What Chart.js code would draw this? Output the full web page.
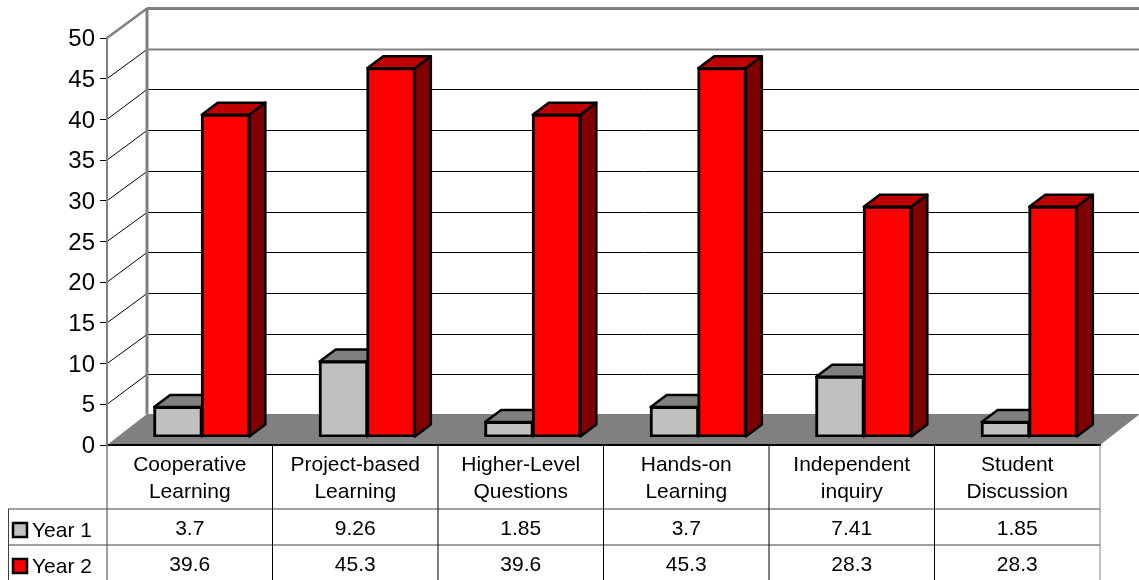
<!DOCTYPE html>
<html>
<head>
<meta charset="utf-8">
<title>Year 1 and Year 2</title>
<style>
html,body{margin:0;padding:0;background:#fff;overflow:hidden}
canvas{display:block}
</style>
<script src="https://cdn.jsdelivr.net/npm/chart.js@4/dist/chart.umd.min.js"></script>
</head>
<body>
<canvas id="chart" width="1139" height="580"></canvas>
<script>
// values
const categories = [
  ['Cooperative','Learning'],
  ['Project-based','Learning'],
  ['Higher-Level','Questions'],
  ['Hands-on','Learning'],
  ['Independent','inquiry'],
  ['Student','Discussion']
];
const year1 = [3.7, 9.26, 1.85, 3.7, 7.41, 1.85];
const year2 = [39.6, 45.3, 39.6, 45.3, 28.3, 28.3];
const seriesNames = ['Year 1', 'Year 2'];

const FONT = '"Liberation Sans", Arial, sans-serif';
const wallDx = 40, wallDy = 30, floorDy = 31;   // depth of the walls and floor
const barDx = 12, barDy = 8;      // bars stand a bit inside the floor
const sideDx = 16, sideDy = 12;   // depth of a bar
const topColors = ['#808080', '#c00000'];
const sideColors = ['#606060', '#800000'];
const rowLines = [509, 545, 580];
const tableLeft = 8;

function poly(ctx, pts, fill, stroke, lw){
  ctx.beginPath();
  pts.forEach((p,i)=> i ? ctx.lineTo(p[0],p[1]) : ctx.moveTo(p[0],p[1]));
  ctx.closePath();
  if(fill){ ctx.fillStyle = fill; ctx.fill(); }
  if(stroke){ ctx.strokeStyle = stroke; ctx.lineWidth = lw; ctx.lineJoin = 'round'; ctx.stroke(); }
}
function line(ctx, x1, y1, x2, y2, color, lw){
  ctx.beginPath();
  ctx.moveTo(x1,y1);
  ctx.lineTo(x2,y2);
  ctx.strokeStyle = color;
  ctx.lineWidth = lw;
  ctx.stroke();
}

const box3d = {
  id: 'box3d',
  // back wall, side wall and floor
  beforeDraw(chart){
    const {ctx, chartArea:a, scales:{y}} = chart;
    // tick labels sit a little lower than the tick marks
    y.getLabelItems().forEach(item=>{ item.options.translation = [item.options.translation[0], item.options.translation[1]+1.5]; });
    ctx.save();
    y.ticks.forEach(t=>{
      const py = y.getPixelForValue(t.value);
      if(t.value === 0) return;
      const top = t.value === 50, grey = top || t.value === 45;
      const backY = Math.round(py-wallDy)+0.5;
      line(ctx, a.left, py, a.left+wallDx, backY, top ? '#808080' : '#000', top ? 2.5 : 1);
      line(ctx, a.left+wallDx, backY, a.right+wallDx, backY, grey ? '#808080' : '#000', top ? 3 : (grey ? 2 : 1));
    });
    line(ctx, a.left+wallDx, a.top-wallDy, a.left+wallDx, a.bottom-floorDy, '#808080', 3);
    poly(ctx, [[a.left,a.bottom],[a.left+wallDx,a.bottom-floorDy],[a.right+wallDx,a.bottom-floorDy],[a.right,a.bottom]], '#808080');
    ctx.restore();
  },
  // top and side of each bar, then the library draws the fronts shifted
  beforeDatasetsDraw(chart){
    const {ctx} = chart;
    ctx.save();
    ctx.translate(barDx, -barDy);
    chart.data.datasets.forEach((ds,i)=>{
      chart.getDatasetMeta(i).data.forEach(bar=>{
        const l = bar.x-bar.width/2, r = bar.x+bar.width/2;
        poly(ctx, [[l,bar.y],[l+sideDx,bar.y-sideDy],[r+sideDx,bar.y-sideDy],[r,bar.y]], topColors[i], '#000', 2.5);
        poly(ctx, [[r,bar.y],[r+sideDx,bar.y-sideDy],[r+sideDx,bar.base-sideDy],[r,bar.base]], sideColors[i], '#000', 2.5);
      });
    });
  },
  afterDatasetsDraw(chart){
    chart.ctx.restore();
  },
  // data table under the axis
  afterDraw(chart){
    const {ctx, chartArea:a, scales:{x}} = chart;
    const halfCol = (x.getPixelForValue(1)-x.getPixelForValue(0))/2;
    ctx.save();
    line(ctx, tableLeft, rowLines[0], a.right, rowLines[0], '#404040', 1);
    line(ctx, tableLeft, rowLines[1], a.right, rowLines[1], '#404040', 1);
    line(ctx, tableLeft+0.5, rowLines[0], tableLeft+0.5, rowLines[2], '#404040', 1);
    line(ctx, a.left, a.bottom, a.left, rowLines[2], '#404040', 1);
    categories.forEach((c,i)=>{
      const right = x.getPixelForValue(i)+halfCol;
      line(ctx, right, a.bottom, right, rowLines[2], i === categories.length-1 ? '#808080' : '#000', 1);
    });
    ctx.font = '21px ' + FONT;
    ctx.textBaseline = 'alphabetic';
    chart.data.datasets.forEach((ds,i)=>{
      const base = rowLines[i]+26;
      ctx.fillStyle = ds.backgroundColor;
      ctx.strokeStyle = '#000';
      ctx.lineWidth = 2.5;
      ctx.fillRect(13, base-12, 14, 14);
      ctx.strokeRect(13, base-12, 14, 14);
      ctx.fillStyle = '#000';
      ctx.textAlign = 'left';
      ctx.fillText(ds.label, 32, base+2);
      ctx.textAlign = 'center';
      ds.data.forEach((v,j)=> ctx.fillText(String(v), x.getPixelForValue(j), base));
    });
    ctx.restore();
  }
};

new Chart(document.getElementById('chart').getContext('2d'), {
  type: 'bar',
  data: {
    labels: categories,
    datasets: [
      { label: seriesNames[0], data: year1, backgroundColor: '#c0c0c0' },
      { label: seriesNames[1], data: year2, backgroundColor: '#ff0000' }
    ]
  },
  options: {
    responsive: false,
    animation: false,
    devicePixelRatio: 1,
    layout: { padding: { left: 0, right: 39, top: 38, bottom: 0 } },
    datasets: { bar: {
      barPercentage: 1, categoryPercentage: 0.575,
      borderColor: '#000', borderWidth: 3, borderSkipped: false, inflateAmount: 1
    } },
    plugins: { legend: { display: false }, tooltip: { enabled: false } },
    scales: {
      x: {
        afterFit(scale){ scale.height = 135; },
        grid: { display: false },
        border: { display: true, color: '#000', width: 2 },
        ticks: { color: '#000', padding: -1, maxRotation: 0, autoSkip: false,
                 font: { family: FONT, size: 21, lineHeight: 1.29 } }
      },
      y: {
        min: 0, max: 50,
        afterFit(scale){ scale.width = 107; },
        grid: { drawOnChartArea: false, drawTicks: true, tickLength: 7, color: '#000' },
        border: { color: '#808080', width: 2 },
        ticks: { stepSize: 5, color: '#000', padding: 5, font: { family: FONT, size: 24 } }
      }
    }
  },
  plugins: [box3d]
});
</script>
</body>
</html>
